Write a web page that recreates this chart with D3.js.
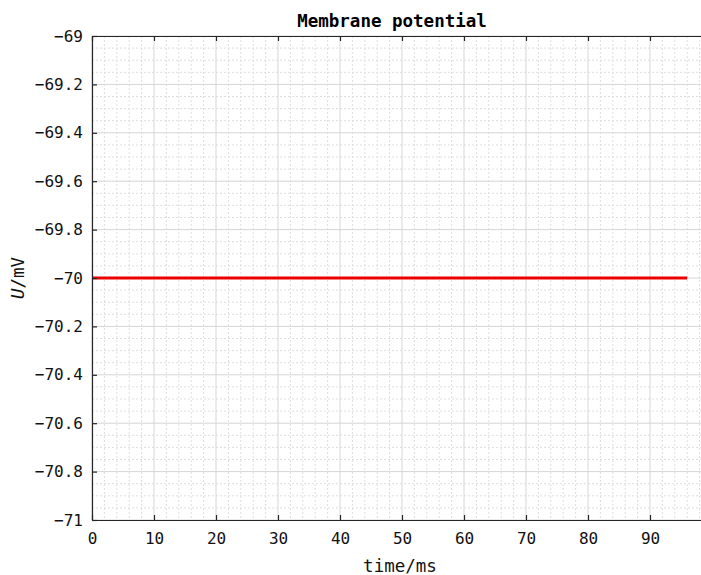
<!DOCTYPE html>
<html>
<head>
<meta charset="utf-8">
<script src="https://cdn.jsdelivr.net/npm/d3@7"></script>
<style>
  body { margin: 0; background: #fff; }
  svg { display: block; }
  .tick-label { font-family: "DejaVu Sans Mono", monospace; font-size: 16px; fill: #111; }
  .title { font-family: "DejaVu Sans Mono", monospace; font-size: 17.5px; font-weight: bold; fill: #000; }
  .axis-title { font-family: "DejaVu Sans Mono", monospace; font-size: 17.5px; fill: #111; }
</style>
</head>
<body>
<svg id="chart"></svg>
<script>
// Data
const timeMs = [0, 96];
const voltage = [-70, -70];
const xTicks = [0, 10, 20, 30, 40, 50, 60, 70, 80, 90, 100];
const xTickLabels = ["0", "10", "20", "30", "40", "50", "60", "70", "80", "90", ""];
const yTicks = [-71, -70.8, -70.6, -70.4, -70.2, -70, -69.8, -69.6, -69.4, -69.2, -69];
const yTickLabels = ["\u221271", "\u221270.8", "\u221270.6", "\u221270.4", "\u221270.2", "\u221270",
  "\u221269.8", "\u221269.6", "\u221269.4", "\u221269.2", "\u221269"];
const xDomain = [0, 100];
const yDomain = [-71, -69];

const W = 701, H = 575;
const margin = { top: 36, left: 92 };
const plotW = 620, plotH = 484;

const svg = d3.select("#chart").attr("width", W).attr("height", H);
const g = svg.append("g").attr("transform", `translate(${margin.left},${margin.top})`);

const x = d3.scaleLinear().domain(xDomain).range([0, plotW]);
const y = d3.scaleLinear().domain(yDomain).range([plotH, 0]);

// Minor grid (dotted)
const xMinor = d3.range(xDomain[0], xDomain[1] + 0.001, 2).filter(v => v % 10 !== 0);
const yMinor = d3.range(0, 41).map(i => yDomain[0] + i * 0.05).filter((v, i) => i % 4 !== 0);

g.append("g").selectAll("line").data(xMinor).join("line")
  .attr("x1", d => x(d)).attr("x2", d => x(d))
  .attr("y1", 0).attr("y2", plotH)
  .attr("stroke", "#dedede").attr("stroke-dasharray", "2,2");
g.append("g").selectAll("line").data(yMinor).join("line")
  .attr("x1", 0).attr("x2", plotW)
  .attr("y1", d => y(d)).attr("y2", d => y(d))
  .attr("stroke", "#dedede").attr("stroke-dasharray", "2,2");

// Major grid
g.append("g").selectAll("line").data(xTicks).join("line")
  .attr("x1", d => x(d)).attr("x2", d => x(d))
  .attr("y1", 0).attr("y2", plotH)
  .attr("stroke", "#d6d6d6");
g.append("g").selectAll("line").data(yTicks).join("line")
  .attr("x1", 0).attr("x2", plotW)
  .attr("y1", d => y(d)).attr("y2", d => y(d))
  .attr("stroke", "#d6d6d6");

// Line
const line = d3.line()
  .x((d, i) => x(timeMs[i]))
  .y(d => y(d));
g.append("path")
  .datum(voltage)
  .attr("d", line)
  .attr("fill", "none")
  .attr("stroke", "#ee0000")
  .attr("stroke-width", 3);

// Axes (inward ticks, box)
const tickLen = 5;

const xAxis = g.append("g").attr("transform", `translate(0,${plotH})`)
  .call(d3.axisBottom(x).tickValues(xTicks).tickSizeInner(-tickLen).tickSizeOuter(0).tickPadding(9)
    .tickFormat((d, i) => xTickLabels[i]));
const xAxisTop = g.append("g")
  .call(d3.axisTop(x).tickValues(xTicks).tickSizeInner(-tickLen).tickSizeOuter(0).tickFormat(""));
const yAxis = g.append("g")
  .call(d3.axisLeft(y).tickValues(yTicks).tickSizeInner(-tickLen).tickSizeOuter(0).tickPadding(9)
    .tickFormat((d, i) => yTickLabels[i]));
const yAxisRight = g.append("g").attr("transform", `translate(${plotW},0)`)
  .call(d3.axisRight(y).tickValues(yTicks).tickSizeInner(-tickLen).tickSizeOuter(0).tickFormat(""));

[xAxis, xAxisTop, yAxis, yAxisRight].forEach(a => {
  a.select(".domain").attr("stroke", "#262626").attr("stroke-width", 1.2);
  a.selectAll(".tick line").attr("stroke", "#262626").attr("stroke-width", 1.2);
  a.selectAll(".tick text").attr("class", "tick-label").attr("fill", null);
});
xAxis.selectAll(".tick text").attr("dy", "0.95em");

// Title and labels
svg.append("text").attr("class", "title")
  .attr("x", margin.left + plotW / 2 - 10).attr("y", 27)
  .attr("text-anchor", "middle")
  .text("Membrane potential");

svg.append("text").attr("class", "axis-title")
  .attr("x", margin.left + plotW / 2 - 2).attr("y", 572)
  .attr("text-anchor", "middle")
  .text("time/ms");

const yl = svg.append("text").attr("class", "axis-title")
  .attr("transform", `translate(24,${margin.top + plotH / 2}) rotate(-90)`)
  .attr("text-anchor", "middle");
yl.append("tspan").attr("font-style", "italic").text("U");
yl.append("tspan").text("/mV");
</script>
</body>
</html>
